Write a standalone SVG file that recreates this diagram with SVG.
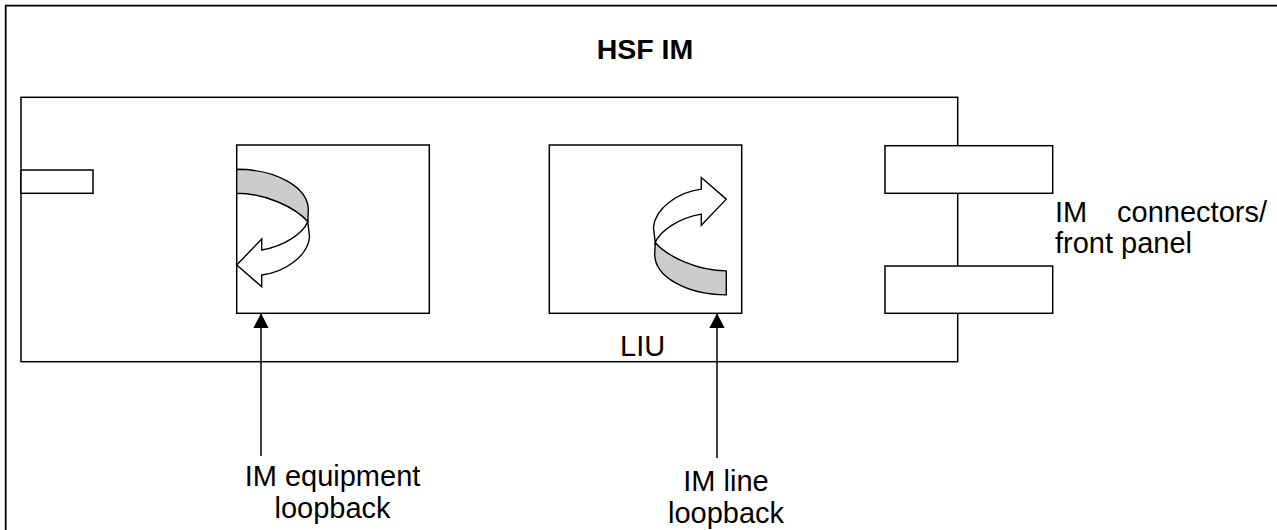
<svg xmlns="http://www.w3.org/2000/svg" xmlns:xlink="http://www.w3.org/1999/xlink" width="1277" height="530" viewBox="0 0 1277 530">
  <style>
    .box { fill: #ffffff; stroke: #000000; stroke-width: 1.5; }
    .frame { fill: none; stroke: #000000; stroke-width: 1.8; }
    .lbl { font-family: "Liberation Sans", Arial, sans-serif; font-size: 29px; fill: #000000; }
    .title { font-family: "Liberation Sans", Arial, sans-serif; font-size: 28.5px; font-weight: bold; fill: #000000; }
    .conn { fill: none; stroke: #000000; stroke-width: 1.5; }
    .band { fill: #cccccc; stroke: #000000; stroke-width: 1.4; stroke-linejoin: round; }
    .ribbon { fill: #ffffff; stroke: #000000; stroke-width: 1.4; stroke-linejoin: miter; }
  </style>
  <defs>
    <marker id="head" markerUnits="userSpaceOnUse" markerWidth="16" markerHeight="16" refX="15" refY="7.8" orient="auto">
      <path d="M0,0 L15,7.8 L0,15.6 Z" fill="#000000"/>
    </marker>
    <g id="loop">
      <path class="band" d="M236.7,169.3 A71.6,40.7 0 0 1 308.3,210 L307.8,221.7 C295,207 265,193.3 236.7,193.3 Z"/>
      <path class="ribbon" d="M307.8,221.7 C303,233 285,246 261.7,250 L261.7,239 L236.7,265 L261.7,286.7 L261.7,275 C285,272 308,256 309.5,236.7 Z"/>
    </g>
  </defs>

  <rect width="1277" height="530" fill="#ffffff"/>

  <g id="hsf-im">
    <path class="frame" d="M5.7,532 V5.7 H1280"/>
    <text class="title" x="645" y="59" text-anchor="middle">HSF IM</text>
  </g>

  <g id="board">
    <rect class="box" x="21" y="97.3" width="936.7" height="264.4"/>
  </g>

  <g id="left-port">
    <rect class="box" x="21" y="170" width="72" height="23.3"/>
  </g>

  <g id="equipment-block">
    <rect class="box" x="236.7" y="145" width="192.6" height="168.3"/>
    <use xlink:href="#loop" href="#loop"/>
  </g>

  <g id="liu-block">
    <rect class="box" x="549.3" y="145" width="192.4" height="168.3"/>
    <use xlink:href="#loop" href="#loop" transform="translate(963 464.15) rotate(180)"/>
    <text class="lbl" x="620" y="356">LIU</text>
  </g>

  <g id="front-connectors">
    <rect class="box" x="885" y="145.7" width="167.7" height="47.6"/>
    <rect class="box" x="885" y="266" width="167.7" height="47.3"/>
    <text class="lbl" y="221.7"><tspan x="1055">IM</tspan><tspan x="1267" text-anchor="end">connectors/</tspan></text>
    <text class="lbl" x="1055" y="252.7">front panel</text>
  </g>

  <g id="connectors">
    <line class="conn" x1="261" y1="456" x2="261" y2="313.3" marker-end="url(#head)"/>
    <line class="conn" x1="717" y1="458" x2="717" y2="313.3" marker-end="url(#head)"/>
  </g>

  <g id="equipment-loopback-label">
    <text class="lbl" x="332.5" y="486" text-anchor="middle">IM equipment</text>
    <text class="lbl" x="332.5" y="518" text-anchor="middle">loopback</text>
  </g>

  <g id="line-loopback-label">
    <text class="lbl" x="726" y="491" text-anchor="middle">IM line</text>
    <text class="lbl" x="726" y="523" text-anchor="middle">loopback</text>
  </g>
</svg>
